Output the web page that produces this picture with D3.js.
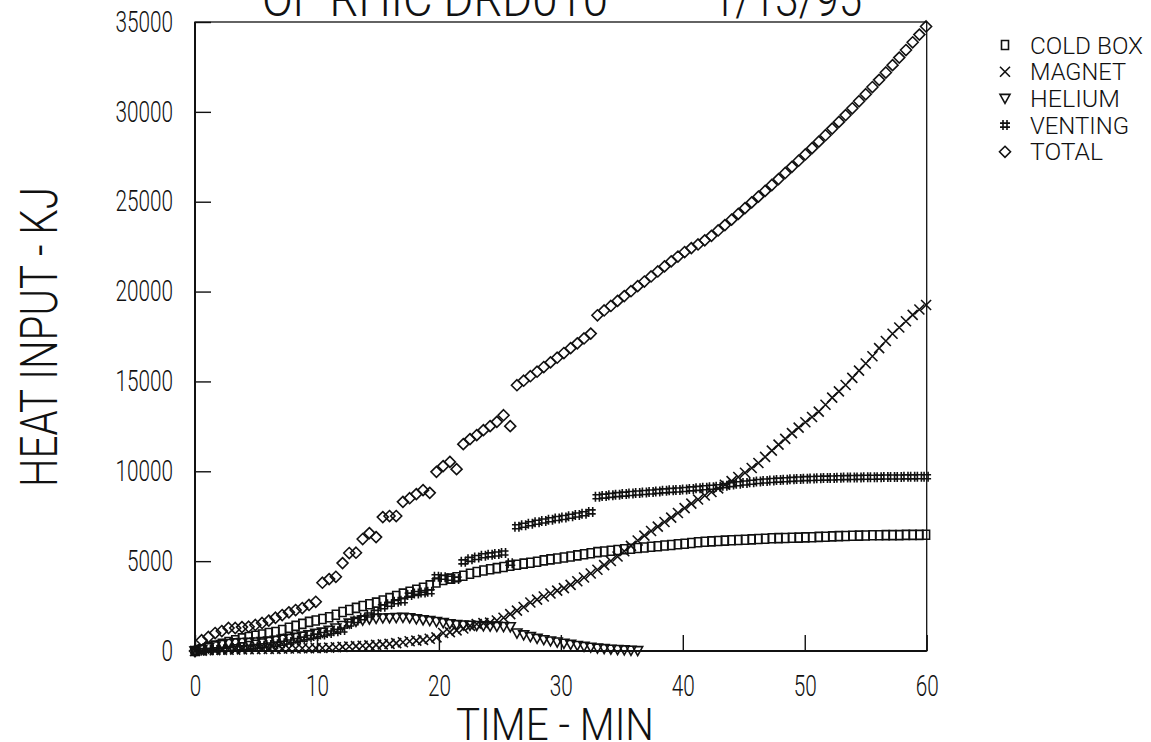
<!DOCTYPE html>
<html>
<head>
<meta charset="utf-8">
<script src="https://cdn.jsdelivr.net/npm/d3@7/dist/d3.min.js"></script>
<style>
  body { margin: 0; background: #fff; }
  text { font-family: Roboto, "DejaVu Sans Condensed", sans-serif; font-weight: 300; fill: #111; }
  .mark { fill: none; stroke: #111; stroke-width: 1.6; }
</style>
</head>
<body>
<script>
var width = 1151,
    height = 742;

// sample times, minutes
var times = [0, 0.55, 1.1, 1.65, 2.2, 2.75, 3.3, 3.85, 4.4, 4.95,
  5.5, 6.05, 6.6, 7.15, 7.7, 8.25, 8.8, 9.35, 9.9, 10.45,
  11, 11.55, 12.1, 12.65, 13.2, 13.75, 14.3, 14.85, 15.4, 15.95,
  16.5, 17.05, 17.6, 18.15, 18.7, 19.25, 19.8, 20.35, 20.9, 21.45,
  22, 22.55, 23.1, 23.65, 24.2, 24.75, 25.3, 25.85, 26.4, 26.95,
  27.5, 28.05, 28.6, 29.15, 29.7, 30.25, 30.8, 31.35, 31.9, 32.45,
  33, 33.55, 34.1, 34.65, 35.2, 35.75, 36.3, 36.85, 37.4, 37.95,
  38.5, 39.05, 39.6, 40.15, 40.7, 41.25, 41.8, 42.35, 42.9, 43.45,
  44, 44.55, 45.1, 45.65, 46.2, 46.75, 47.3, 47.85, 48.4, 48.95,
  49.5, 50.05, 50.6, 51.15, 51.7, 52.25, 52.8, 53.35, 53.9, 54.45,
  55, 55.55, 56.1, 56.65, 57.2, 57.75, 58.3, 58.85, 59.4, 59.95];

// heat input, kJ
var coldBox = [0, 100, 200, 300, 400, 500, 600, 700, 780, 850,
  920, 1000, 1060, 1170, 1290, 1400, 1510, 1620, 1700, 1780,
  1880, 2020, 2170, 2280, 2400, 2500, 2600, 2690, 2810, 2940,
  3060, 3190, 3300, 3410, 3520, 3650, 3810, 3950, 4030, 4100,
  4190, 4300, 4400, 4480, 4550, 4610, 4670, 4740, 4800, 4860,
  4910, 4970, 5040, 5100, 5150, 5200, 5260, 5320, 5380, 5440,
  5500, 5540, 5580, 5620, 5660, 5690, 5730, 5760, 5800, 5830,
  5870, 5900, 5940, 5970, 6010, 6050, 6080, 6100, 6120, 6140,
  6160, 6180, 6190, 6210, 6230, 6250, 6270, 6280, 6290, 6300,
  6310, 6320, 6330, 6350, 6360, 6380, 6390, 6400, 6410, 6420,
  6430, 6440, 6440, 6450, 6450, 6450, 6460, 6460, 6460, 6470];

var magnet = [0, 20, 40, 50, 60, 70, 80, 90, 100, 100,
  110, 120, 120, 130, 140, 140, 150, 150, 160, 170,
  190, 210, 230, 250, 270, 290, 310, 340, 370, 400,
  440, 490, 540, 580, 620, 680, 760, 1000, 1050, 1150,
  1250, 1400, 1500, 1550, 1580, 1700, 1850, 2050, 2250, 2450,
  2700, 2860, 3030, 3200, 3360, 3500, 3680, 3880, 4090, 4310,
  4520, 4780, 5010, 5260, 5550, 5850, 6150, 6420, 6680, 6920,
  7180, 7420, 7680, 7950, 8200, 8430, 8650, 8850, 9050, 9250,
  9450, 9680, 9920, 10180, 10460, 10800, 11150, 11480, 11800, 12120,
  12430, 12730, 13020, 13320, 13700, 14100, 14450, 14800, 15200, 15600,
  16000, 16400, 16850, 17250, 17650, 18000, 18350, 18700, 19000, 19250];

// helium stops after 36.3 min
var helium = [0, 80, 180, 280, 360, 420, 450, 470, 480, 500,
  520, 560, 600, 650, 700, 760, 830, 900, 980, 1050,
  1150, 1280, 1420, 1550, 1650, 1720, 1780, 1820, 1840, 1850,
  1860, 1870, 1850, 1790, 1740, 1690, 1640, 1580, 1520, 1470,
  1450, 1430, 1420, 1400, 1390, 1370, 1360, 1350, 1000, 900,
  800, 700, 630, 560, 500, 430, 370, 310, 260, 210,
  160, 130, 100, 80, 60, 40, 20];

var venting = [0, 20, 40, 60, 90, 120, 150, 180, 210, 250,
  290, 330, 380, 430, 500, 580, 660, 750, 830, 920,
  1000, 1100, 1170, 1500, 1700, 1850, 2000, 2150, 2460, 2600,
  2740, 2800, 3110, 3200, 3250, 3300, 4130, 4100, 4050, 4000,
  4960, 5100, 5200, 5300, 5350, 5400, 5450, 4880, 6910, 7000,
  7080, 7160, 7230, 7300, 7370, 7430, 7500, 7570, 7640, 7740,
  8580, 8620, 8660, 8700, 8730, 8760, 8790, 8820, 8850, 8880,
  8910, 8940, 8960, 8990, 9020, 9050, 9080, 9110, 9140, 9200,
  9260, 9310, 9350, 9390, 9430, 9460, 9490, 9510, 9530, 9550,
  9570, 9590, 9600, 9610, 9620, 9630, 9640, 9650, 9655, 9660,
  9665, 9670, 9675, 9680, 9680, 9685, 9690, 9690, 9695, 9700];

var total = [0, 600, 780, 1000, 1110, 1280, 1280, 1330, 1350, 1450,
  1560, 1690, 1850, 2000, 2150, 2280, 2390, 2560, 2740, 3800,
  4000, 4130, 4890, 5450, 5470, 6230, 6560, 6340, 7450, 7510,
  7510, 8300, 8500, 8730, 8950, 8800, 9970, 10290, 10520, 10120,
  11510, 11790, 12010, 12290, 12510, 12750, 13120, 12510, 14790, 15040,
  15290, 15540, 15800, 16060, 16320, 16580, 16850, 17120, 17390, 17660,
  18680, 18950, 19200, 19480, 19750, 20020, 20300, 20560, 20840, 21120,
  21400, 21680, 21950, 22200, 22420, 22620, 22850, 23100, 23400, 23700,
  24000, 24320, 24640, 24960, 25280, 25600, 25930, 26260, 26600, 26940,
  27280, 27630, 27980, 28340, 28700, 29070, 29440, 29820, 30200, 30590,
  30980, 31380, 31780, 32190, 32600, 33020, 33440, 33870, 34300, 34750];

var seriesNames = ["COLD BOX", "MAGNET", "HELIUM", "VENTING", "TOTAL"];
var seriesValues = [coldBox, magnet, helium, venting, total];
var seriesMarks = ["square", "cross", "triangle", "hash", "diamond"];

var xTicks = [0, 10, 20, 30, 40, 50, 60];
var yTicks = [0, 5000, 10000, 15000, 20000, 25000, 30000, 35000];

var titleLeft = "OF RHIC DRD010",
    titleRight = "1/13/95",
    xTitle = "TIME - MIN",
    yTitle = "HEAT INPUT - KJ";

// plot frame (not "top": that name belongs to window)
var plotLeft = 195, plotRight = 926.7, plotTop = 22, plotBottom = 651;

var x = d3.scaleLinear().domain([0, 60]).range([plotLeft, plotRight]);
var y = d3.scaleLinear().domain([0, 35000]).range([plotBottom, plotTop]);

function markPath(kind) {
  if (kind == "square") return "M-3.5,-4.5H3.5V4.5H-3.5Z";
  if (kind == "cross") return "M-5,-5L5,5M-5,5L5,-5";
  if (kind == "triangle") return "M-5,-4H5L0,5Z";
  if (kind == "hash") return "M-2,-5V5M2,-5V5M-5,-2H5M-5,2H5";
  return "M0,-5.5L5.5,0L0,5.5L-5.5,0Z";
}

var svg = d3.select("body").append("svg")
    .attr("width", width)
    .attr("height", height);

// title, its top runs off the page
svg.append("text")
    .attr("x", 262).attr("y", 16)
    .attr("font-size", 50)
    .attr("textLength", 346).attr("lengthAdjust", "spacingAndGlyphs")
    .text(titleLeft);
svg.append("text")
    .attr("x", 712).attr("y", 16)
    .attr("font-size", 50)
    .attr("textLength", 150).attr("lengthAdjust", "spacingAndGlyphs")
    .text(titleRight);

// axes: ticks point inward, labels outside
var xAxis = svg.append("g")
    .attr("transform", "translate(0," + plotBottom + ")")
    .call(d3.axisBottom(x).tickValues(xTicks).tickSizeInner(-16).tickSizeOuter(0).tickPadding(24));

var yAxis = svg.append("g")
    .attr("transform", "translate(" + plotLeft + ",0)")
    .call(d3.axisLeft(y).tickValues(yTicks).tickSizeInner(-16).tickSizeOuter(0).tickPadding(22).tickFormat(d3.format("d")));

[xAxis, yAxis].forEach(function(g) {
  g.attr("font-family", null).attr("font-size", null);
  g.select(".domain").remove();
  g.selectAll(".tick line").attr("stroke", "#111").attr("stroke-width", 1.4);
  g.selectAll(".tick text")
    .attr("font-size", 29)
    .attr("fill", "#111")
    .each(function() {
      var t = d3.select(this);
      t.attr("textLength", t.text().length * 11.5).attr("lengthAdjust", "spacingAndGlyphs");
    });
});

// frame: thin top and right, heavier axes
svg.append("rect")
    .attr("x", plotLeft).attr("y", plotTop)
    .attr("width", plotRight - plotLeft).attr("height", plotBottom - plotTop)
    .attr("fill", "none")
    .attr("stroke", "#111")
    .attr("stroke-width", 1.3);
svg.append("path")
    .attr("d", "M" + plotLeft + "," + plotTop + "V" + plotBottom + "H" + plotRight)
    .attr("fill", "none")
    .attr("stroke", "#111")
    .attr("stroke-width", 2);

// axis titles
svg.append("text")
    .attr("x", 555).attr("y", 740)
    .attr("text-anchor", "middle")
    .attr("font-size", 44)
    .attr("textLength", 198).attr("lengthAdjust", "spacingAndGlyphs")
    .text(xTitle);

svg.append("text")
    .attr("transform", "translate(57,337) rotate(-90)")
    .attr("text-anchor", "middle")
    .attr("font-size", 52)
    .attr("textLength", 300).attr("lengthAdjust", "spacingAndGlyphs")
    .text(yTitle);

// data marks
seriesValues.forEach(function(vals, k) {
  var pts = vals.map(function(v, i) { return [times[i], v]; });
  svg.append("g").attr("class", "series")
    .selectAll("path").data(pts)
    .enter().append("path")
      .attr("class", "mark")
      .attr("transform", function(d) { return "translate(" + x(d[0]) + "," + y(d[1]) + ")"; })
      .attr("d", markPath(seriesMarks[k]));
});

// legend
var legend = svg.append("g").attr("class", "legend");
var legendWidths = [113, 96, 90, 99, 73];
seriesNames.forEach(function(name, k) {
  var cy = 45 + k * 26.7;
  legend.append("path")
    .attr("class", "mark")
    .attr("transform", "translate(1005," + cy + ")")
    .attr("d", markPath(seriesMarks[k]));
  legend.append("text")
    .attr("x", 1030).attr("y", cy + 8.5)
    .attr("font-size", 24)
    .attr("textLength", legendWidths[k]).attr("lengthAdjust", "spacingAndGlyphs")
    .text(name);
});
</script>
</body>
</html>
